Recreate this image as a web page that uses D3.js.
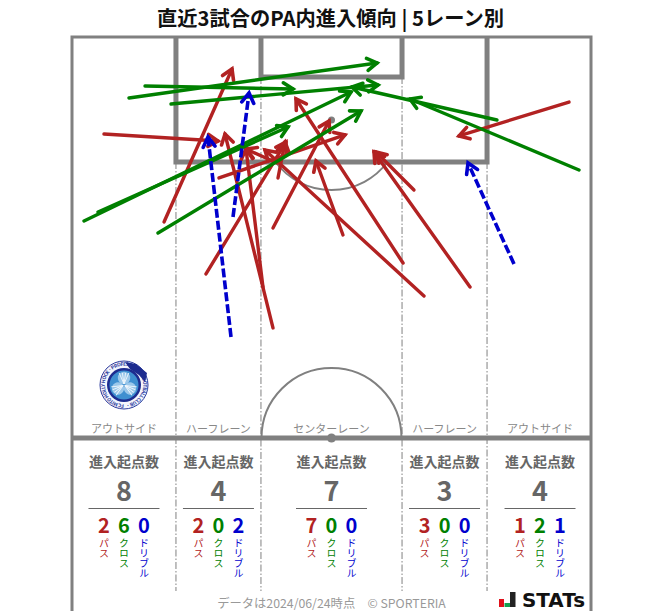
<!DOCTYPE html>
<html><head><meta charset="utf-8">
<script src="https://cdn.jsdelivr.net/npm/d3@7"></script>
<style>html,body{margin:0;padding:0;background:#fff}svg{display:block}text{font-family:"Noto Sans CJK JP","Noto Sans",sans-serif}</style>
</head><body><svg id="c" width="663" height="611"></svg>
<script>
// Arrows in metres: [fromX, fromY, toX, toY]; x from pitch centre, y from goal line
const passes = [
 [-21.75,24.36,-12.92,4.21],[-29.55,12.77,-14.74,13.69],[-7.60,38.31,-13.83,12.77],
 [-8.90,32.92,-11.10,14.75],[-16.30,31.20,-5.91,13.82],[-14.61,18.56,1.75,12.90],
 [-7.60,25.15,-0.32,11.06],[1.49,26.07,-2.01,16.33],[9.29,29.76,-4.61,8.16],
 [12.01,34.10,-8.64,14.88],[17.99,32.92,5.52,15.14],[10.71,20.15,5.78,15.14],
 [30.84,8.56,16.56,13.03],[-6.95,18.56,-6.04,13.82],[-7.08,16.59,-11.10,14.75]
];
const crosses = [
 [-26.30,8.03,5.91,3.42],[-24.22,6.45,-5.00,6.85],[-20.84,8.82,6.04,6.32],
 [-32.14,24.23,2.53,7.24],[-30.32,23.04,-5.65,11.85],[-22.53,25.81,3.83,9.74],
 [21.49,10.93,2.66,6.58],[32.14,17.51,10.19,8.16]
];
const dribbles = [
 [-13.05,39.50,-16.04,13.17],[-12.79,23.70,-10.71,7.37],[23.70,29.89,17.73,16.59]
];
const laneNames = ["アウトサイド","ハーフレーン","センターレーン","ハーフレーン","アウトサイド"];
const laneTotals = [8,4,7,3,4];
const lanePass = [2,2,7,3,1];
const laneCross = [6,0,0,0,2];
const laneDribble = [0,2,0,0,1];
const laneEdges = [-33.7,-20.2,-9.16,9.16,20.2,33.7];
const statNames = ["パス","クロス","ドリブル"];
const statColors = ["#b22222","#008000","#0000cd"];
const titleText = "直近3試合のPA内進入傾向 | 5レーン別";
const footerText = "データは2024/06/24時点　© SPORTERIA";
const statLabel = "進入起点数";
const logoText = "FC MITO HOLLY HOCK · PROFESSIONAL FOOTBALL CLUB ·";

const svg = d3.select("#c");
const x = d3.scaleLinear().domain([-33.7,33.7]).range([72,591]);
const y = d3.scaleLinear().domain([0,52.8]).range([37,438]);
const grey = "#808080";
const cx = x(0);
const r = x(9.09)-x(0);

svg.append("text").attr("x",330.5).attr("y",25.5).attr("text-anchor","middle")
  .attr("font-size",20.25).attr("font-weight",700).attr("fill","#111").text(titleText);

// pitch
const pitch = svg.append("g").attr("fill","none").attr("stroke",grey);
[-20.2,-9.16,9.16,20.2].forEach(m=>{
  const top = Math.abs(m)<10 ? y(5.27) : y(16.46);
  pitch.append("line").attr("x1",x(m)).attr("x2",x(m)).attr("y1",top).attr("y2",591)
   .attr("stroke","#808080").attr("stroke-width",1).attr("stroke-dasharray","7,2,1.5,2");
});
pitch.append("path").attr("stroke-width",3)
  .attr("d",`M${x(-33.7)},611V${y(0)}H${x(33.7)}V611`);
pitch.append("path").attr("stroke-width",5)
  .attr("d",`M${x(-20.2)},${y(0)}V${y(16.46)}H${x(20.2)}V${y(0)}`);
pitch.append("path").attr("stroke-width",5)
  .attr("d",`M${x(-9.16)},${y(0)}V${y(5.27)}H${x(9.16)}V${y(0)}`);
pitch.append("line").attr("x1",x(-33.7)).attr("x2",x(33.7)).attr("y1",y(52.8)).attr("y2",y(52.8)).attr("stroke-width",5);
const arc = d3.arc();
pitch.append("path").attr("stroke-width",2).attr("transform",`translate(${cx},${y(52.8)})`)
  .attr("d",arc({innerRadius:r,outerRadius:r,startAngle:-Math.PI/2,endAngle:Math.PI/2}));
const spot = y(10.93), a0 = Math.acos((y(16.46)-spot)/r);
pitch.append("path").attr("stroke-width",2).attr("transform",`translate(${cx},${spot})`)
  .attr("d",arc({innerRadius:r,outerRadius:r,startAngle:Math.PI-a0,endAngle:Math.PI+a0}));
svg.append("circle").attr("cx",cx).attr("cy",spot).attr("r",3.5).attr("fill",grey);
svg.append("circle").attr("cx",cx).attr("cy",y(52.8)).attr("r",4.5).attr("fill",grey);

// logo
const logo = svg.append("g").attr("transform","translate(124,385)");
logo.append("circle").attr("r",24).attr("fill","#f4f5fc").attr("stroke","#2b3a9c").attr("stroke-width",1);
logo.append("path").attr("id","logoRing").attr("fill","none").attr("d","M0,19.2 A19.2,19.2 0 1 1 0.01,19.2");
logo.append("text").attr("font-size",4.9).attr("font-weight",700).attr("fill","#2b3a9c")
  .append("textPath").attr("href","#logoRing").attr("textLength",118).text(logoText);
logo.append("circle").attr("r",17).attr("fill","#1d2c8f");
logo.append("circle").attr("r",14.5).attr("fill","#3f8fd0");
d3.range(3).forEach(i=>{
  const a = i*2*Math.PI/3 - Math.PI/2;
  const leaf = logo.append("g").attr("transform",`rotate(${i*120}) translate(0,-7)`);
  leaf.append("circle").attr("r",6.2).attr("fill","#9cc8ea");
  d3.range(4).forEach(k=>leaf.append("path").attr("d",`M0,6L${(k-1.5)*3.2},-5`).attr("stroke","#f2f8fd").attr("stroke-width",0.9).attr("fill","none"));
});
logo.append("path").attr("d","M1,-23 L12,-21 L23,-12 L21,-3 L15,-10 L6,-16Z").attr("fill","#1d2c8f");

// lanes
laneNames.forEach((name,i)=>{
  const m = (laneEdges[i]+laneEdges[i+1])/2;
  const c = x(m) + (i===4?1:0);
  const g = svg.append("g").attr("text-anchor","middle");
  g.append("text").attr("x",c).attr("y",433).attr("font-size",11).attr("fill","#888").text(name);
  g.append("text").attr("x",c).attr("y",467).attr("font-size",14).attr("font-weight",700).attr("fill","#666").text(statLabel);
  g.append("text").attr("x",c).attr("y",501).attr("font-size",27).attr("font-weight",700).attr("fill","#666").text(laneTotals[i]);
  g.append("line").attr("x1",c-35.5).attr("x2",c+35.5).attr("y1",508.5).attr("y2",508.5).attr("stroke","#666").attr("stroke-width",1);
  [lanePass[i],laneCross[i],laneDribble[i]].forEach((v,j)=>{
    const vx = c + (j-1)*20;
    g.append("text").attr("x",vx).attr("y",533).attr("font-size",20).attr("font-weight",700).attr("fill",statColors[j]).text(v);
    g.append("text").attr("transform",`translate(${vx},538)`).attr("font-size",10).attr("fill",statColors[j])
      .style("writing-mode","vertical-rl").style("text-anchor","start").text(statNames[j]);
  });
});

svg.append("text").attr("x",331.5).attr("y",608).attr("text-anchor","middle")
  .attr("font-size",12.3).attr("fill","#999").text(footerText);

// arrows
function drawArrows(data,color,dash){
  const g = svg.append("g").attr("fill","none").attr("stroke",color).attr("stroke-width",dash?3.6:3.4).attr("stroke-linejoin","miter");
  g.selectAll("line").data(data).join("line")
   .attr("x1",d=>x(d[0])).attr("y1",d=>y(d[1])).attr("x2",d=>x(d[2])).attr("y2",d=>y(d[3]))
   .attr("stroke-linecap",dash?"butt":"round").attr("stroke-dasharray",dash||null);
  g.selectAll("path").data(data).join("path").attr("stroke-width",3.6).attr("stroke-linecap","round").attr("d",d=>{
    const tx=x(d[2]),ty=y(d[3]),a=Math.atan2(y(d[1])-ty,x(d[0])-tx),L=11.5,S=0.55;
    const p=s=>[tx+L*Math.cos(a+s*S),ty+L*Math.sin(a+s*S)].join(",");
    return `M${p(1)}L${tx},${ty}L${p(-1)}`;
  });
}
drawArrows(passes,statColors[0]);
drawArrows(crosses,statColors[1]);
drawArrows(dribbles,statColors[2],"9,3");

// STATs mark
const mark = svg.append("g");
[["#e0101a",499,599,5,8],["#12a050",504.5,603,5.5,4],["#222",510,592,5.5,15]].forEach(b=>
  mark.append("rect").attr("x",b[1]).attr("y",b[2]).attr("width",b[3]).attr("height",b[4]).attr("fill",b[0]));
mark.append("text").attr("x",522).attr("y",607).attr("font-size",19).attr("font-weight",700)
  .attr("fill","#111").attr("textLength",63).attr("lengthAdjust","spacingAndGlyphs")
  .style("font-family","'DejaVu Sans',sans-serif").text("STATs");
</script></body></html>
